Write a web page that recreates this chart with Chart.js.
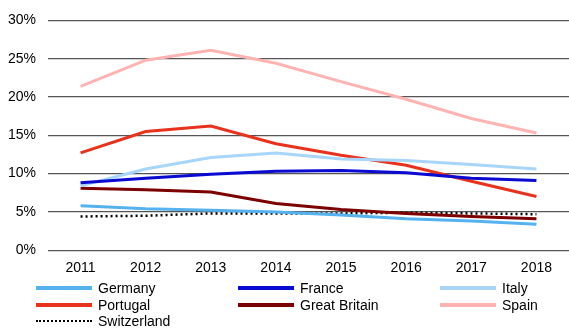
<!DOCTYPE html>
<html>
<head>
<meta charset="utf-8">
<script src="https://cdn.jsdelivr.net/npm/chart.js@4"></script>
<style>
  body { margin: 0; background: #fff; font-family: "Liberation Sans", Arial, sans-serif; }
  #wrap { position: relative; width: 569px; height: 328px; }
  #chartBox { position: absolute; left: 0; top: 0; width: 569px; height: 291px; }
  #legend { position: absolute; left: 36px; top: 280px; display: grid;
            grid-template-columns: 202px 202px 130px; row-gap: 0; }
  .item { display: flex; align-items: center; height: 16.5px; font-size: 14px; color: #000; }
  .swatch { width: 56px; height: 0; margin-right: 6px; }
</style>
</head>
<body>
<div id="wrap">
  <div id="chartBox"><canvas id="chartUnemp"></canvas></div>
  <div id="legend"></div>
</div>
<script>
// anos
const years = ["2011", "2012", "2013", "2014", "2015", "2016", "2017", "2018"];
const yTicks = [0, 5, 10, 15, 20, 25, 30];

// valores em %
const germany     = [5.8, 5.4, 5.2, 5.0, 4.6, 4.1, 3.8, 3.4];
const france      = [8.8, 9.4, 9.9, 10.3, 10.4, 10.1, 9.4, 9.1];
const italy       = [8.4, 10.6, 12.1, 12.7, 11.9, 11.7, 11.2, 10.6];
const portugal    = [12.7, 15.5, 16.2, 13.9, 12.4, 11.1, 9.0, 7.0];
const greatBritain = [8.1, 7.9, 7.6, 6.1, 5.3, 4.8, 4.4, 4.1];
const spain       = [21.4, 24.8, 26.1, 24.4, 22.0, 19.7, 17.2, 15.3];
const switzerland = [4.4, 4.5, 4.8, 4.8, 4.8, 4.9, 4.8, 4.7];

const series = [
    { label: "Germany", data: germany, color: "#55b2ee" },
    { label: "France", data: france, color: "#0a0ad2" },
    { label: "Italy", data: italy, color: "#a8d6fb" },
    { label: "Portugal", data: portugal, color: "#e8321e" },
    { label: "Great Britain", data: greatBritain, color: "#7d0000" },
    { label: "Spain", data: spain, color: "#ffb3b3" },
    { label: "Switzerland", data: switzerland, color: "#000000", dotted: true }
];

document.addEventListener("DOMContentLoaded", () => {
    const el = document.getElementById("chartUnemp");

    const datasets = series.map(s => ({
        label: s.label,
        data: s.data,
        borderColor: s.color,
        backgroundColor: s.color,
        borderWidth: s.dotted ? 2.5 : 3,
        borderDash: s.dotted ? [2, 3] : [],
        pointRadius: 0,
        tension: 0,
        fill: false
    }));

    new Chart(el, {
        type: "line",
        data: { labels: years, datasets: datasets },
        options: {
            responsive: true,
            maintainAspectRatio: false,
            animation: false,
            layout: { padding: { top: 10, right: 0, bottom: 4, left: 0 } },
            plugins: {
                legend: { display: false },
                tooltip: { enabled: false }
            },
            scales: {
                x: {
                    offset: true,
                    grid: { display: false, drawTicks: false },
                    border: { display: false },
                    ticks: {
                        color: "#000",
                        font: { family: "Liberation Sans", size: 14 },
                        padding: 10,
                        maxRotation: 0
                    }
                },
                y: {
                    min: 0,
                    max: 30,
                    afterBuildTicks: axis => { axis.ticks = yTicks.map(v => ({ value: v })); },
                    afterFit: axis => { axis.width = 48; },
                    grid: { color: "#555", lineWidth: 1.2, drawTicks: false },
                    border: { display: false },
                    ticks: {
                        color: "#000",
                        font: { family: "Liberation Sans", size: 14 },
                        padding: 12,
                        callback: v => v + "%"
                    }
                }
            }
        }
    });

    // legenda em grade (3 colunas)
    const legend = document.getElementById("legend");
    series.forEach(s => {
        const item = document.createElement("div");
        item.className = "item";
        const sw = document.createElement("span");
        sw.className = "swatch";
        sw.style.borderTop = s.dotted ? "2.5px dotted " + s.color : "4px solid " + s.color;
        item.appendChild(sw);
        item.appendChild(document.createTextNode(s.label));
        legend.appendChild(item);
    });
});
</script>
</body>
</html>
